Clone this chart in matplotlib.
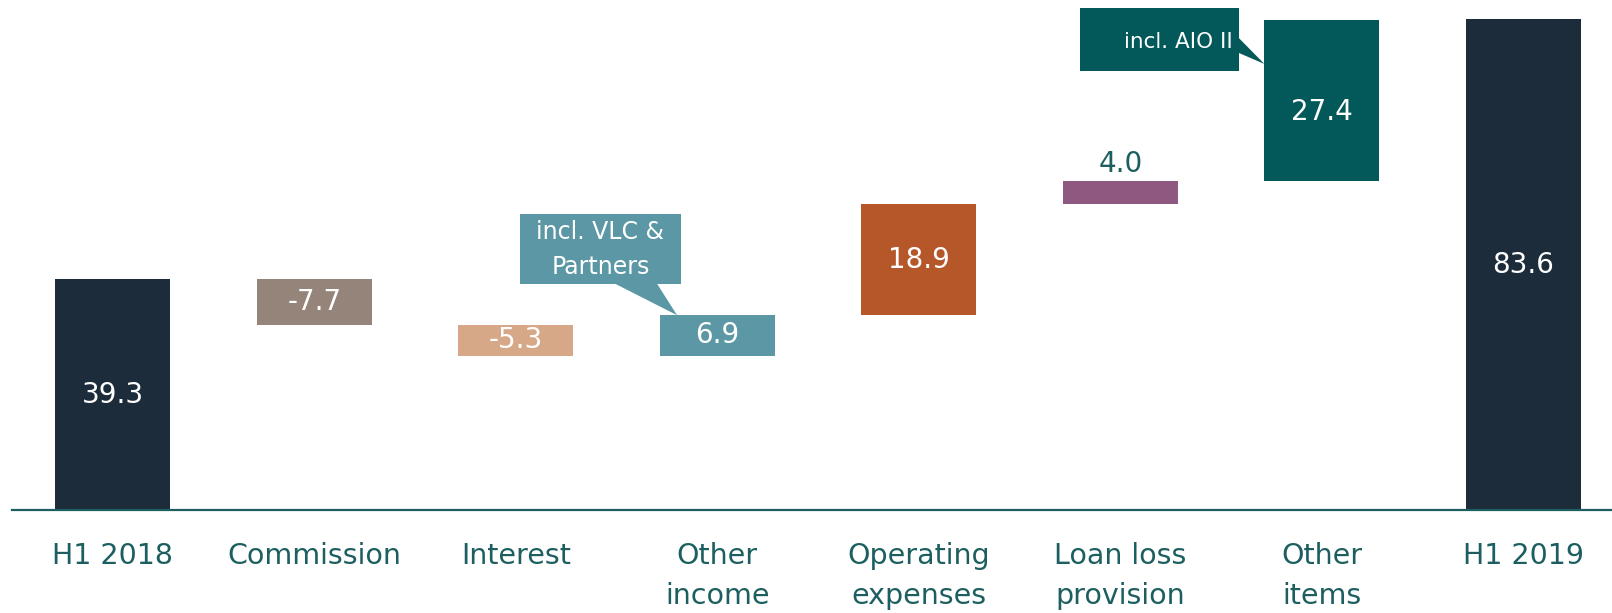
import matplotlib.pyplot as plt
from matplotlib.patches import Rectangle, Polygon

# data
categories = ['H1 2018', 'Commission', 'Interest', 'Other\nincome', 'Operating\nexpenses',
              'Loan loss\nprovision', 'Other\nitems', 'H1 2019']
changes = [39.3, -7.7, -5.3, 6.9, 18.9, 4.0, 27.4, 83.6]
labels = ['39.3', '-7.7', '-5.3', '6.9', '18.9', '4.0', '27.4', '83.6']
colors = ['#1c2c3b', '#958479', '#d7a887', '#5b97a4', '#b6572a', '#8f5881', '#03595a', '#1c2c3b']
is_total = [True, False, False, False, False, False, False, True]

TEAL = '#1d5f60'
plt.rcParams['font.family'] = ['DejaVu Sans']

fig = plt.figure(figsize=(16.12, 6.13), dpi=100)
ax = fig.add_axes([0.0075, 0.168, 0.9925, 0.832])

w = 0.57
running = 0.0
tops = []
for i, (c, tot) in enumerate(zip(changes, is_total)):
    if tot:
        bottom, height = 0, c
        running = c
    else:
        bottom = running if c > 0 else running + c
        height = abs(c)
        running += c
    tops.append(bottom + height)
    ax.bar(i, height, bottom=bottom, width=w, color=colors[i], zorder=2)
    if i == 5:
        ax.text(i, bottom + height + 0.5, labels[i], ha='center', va='bottom',
                color=TEAL, fontsize=20)
    else:
        yoff = -1.9 if i == 6 else 0
        ax.text(i, bottom + height / 2 + yoff, labels[i], ha='center', va='center',
                color='white', fontsize=20)

# callout: incl. VLC & Partners (points to Other income)
x3 = 3
ax.add_patch(Rectangle((x3 - 0.98, 38.5), 0.80, 12.0, color='#5b97a4', zorder=3, lw=0))
ax.add_patch(Polygon([(x3 - 0.51, 38.6), (x3 - 0.30, 38.6), (x3 - 0.20, tops[3])],
                     closed=True, color='#5b97a4', zorder=3, lw=0))
ax.text(x3 - 0.58, 44.4, 'incl. VLC &\nPartners', ha='center', va='center',
        color='white', fontsize=17, zorder=4, linespacing=1.55)

# callout: incl. AIO II (points to Other items)
x6 = 6
ax.add_patch(Rectangle((x6 - 1.20, 74.8), 0.79, 10.8, color='#03595a', zorder=3, lw=0))
ax.add_patch(Polygon([(x6 - 0.42, 80.7), (x6 - 0.42, 78.0), (x6 - w / 2, 76.0)],
                     closed=True, color='#03595a', zorder=3, lw=0))
ax.text(x6 - 0.71, 79.8, 'incl. AIO II', ha='center', va='center',
        color='white', fontsize=15.5, zorder=4)

ax.set_xlim(-0.5, 7.44)
ax.set_ylim(0, 86.9)
ax.set_xticks(range(len(categories)))
ax.set_xticklabels(categories, color=TEAL, fontsize=20.5, linespacing=1.55)
ax.tick_params(axis='x', length=0, pad=23)
ax.set_yticks([])
for s in ['top', 'right', 'left']:
    ax.spines[s].set_visible(False)
ax.spines['bottom'].set_color(TEAL)
ax.spines['bottom'].set_linewidth(1.6)

fig.savefig('out.png', dpi=100)
